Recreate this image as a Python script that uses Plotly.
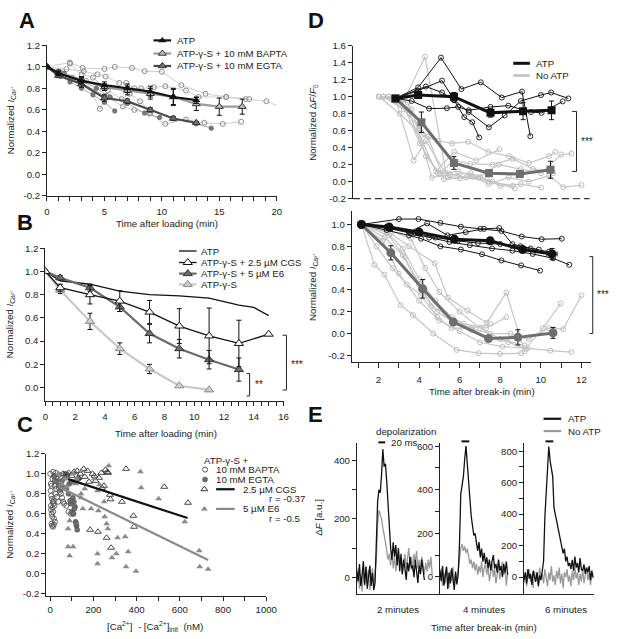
import plotly.graph_objects as go

W, H = 623, 639
FONT = "Liberation Sans, Arial, Helvetica, sans-serif"
AX = "#222222"
TXT = "#222222"

# ---------------- Panel A ----------------
a_atp_x = [0, 1, 3, 5, 7, 9, 11, 13]
a_atp_y = [1.0, 0.94, 0.87, 0.83, 0.80, 0.77, 0.72, 0.69]
a_atp_err = [0, 0.02, 0.03, 0.03, 0.04, 0.05, 0.07, 0.03]
a_bapta_x = [0, 1, 3, 5, 7, 9, 11, 13, 15, 17]
a_bapta_y = [1.0, 0.95, 0.88, 0.81, 0.78, 0.75, 0.72, 0.655, 0.63, 0.63]
a_bapta_err = [0, 0.02, 0.03, 0.03, 0.04, 0.05, 0.08, 0.06, 0.08, 0.07]
a_egta_x = [0, 1, 3, 5, 7, 9, 11, 13]
a_egta_y = [1.0, 0.92, 0.84, 0.71, 0.68, 0.60, 0.52, 0.48]
a_egta_err = [0, 0.02, 0.03, 0.03, 0.02, 0.02, 0.02, 0.01]
a_ind_bapta = [
    ([0, 2, 3.1, 5, 5.9, 7.4, 8.5, 10, 11.7, 13.8, 15.6, 17.3, 19.1, 20.3],
     [1.0, 1.04, 0.99, 0.98, 1.0, 0.99, 0.96, 0.955, 0.83, 0.75, 0.72, 0.70, 0.68, 0.63]),
    ([0, 1.7, 3.2, 4.4, 5.1, 6.3, 6.9, 7.6, 8.2, 9.3, 10.3, 12.1, 13.2, 15.6, 17.6],
     [1.0, 0.98, 0.96, 0.93, 0.91, 0.85, 0.85, 0.80, 0.80, 0.81, 0.82, 0.78, 0.72, 0.72, 0.70]),
    ([0, 1.3, 2.2, 3.4, 4.6, 5.2, 6.6, 7.6, 8.9, 10.3, 12.1, 13.7, 15.3, 16.9],
     [1.0, 0.94, 0.90, 0.87, 0.61, 0.73, 0.63, 0.60, 0.565, 0.47, 0.51, 0.48, 0.47, 0.49]),
    ([0, 1.1, 2.0, 3.0, 4.0, 5.3, 6.5, 7.2, 8.1, 9.0],
     [1.0, 0.95, 1.03, 0.93, 0.90, 0.78, 0.70, 0.75, 0.68, 0.57]),
]
a_ind_egta = [
    ([0, 1, 2, 3, 4, 5, 5.9], [1.0, 0.93, 0.86, 0.80, 0.74, 0.67, 0.59]),
    ([0, 1.2, 3, 5, 7, 9, 11, 13, 14.3], [1.0, 0.91, 0.85, 0.73, 0.67, 0.60, 0.52, 0.47, 0.43]),
    ([0, 1.5, 3, 4.3, 5.5, 7, 8.5, 9.8], [1.0, 0.94, 0.88, 0.80, 0.72, 0.66, 0.57, 0.53]),
]
a_xticks = list(range(0, 21))
a_xtext = [str(v) if v % 5 == 0 else "" for v in a_xticks]
a_yticks = [-0.2, 0.0, 0.2, 0.4, 0.6, 0.8, 1.0, 1.2]
a_ytext = ["-0.2", "0.0", "0.2", "0.4", "0.6", "0.8", "1.0", "1.2"]

# ---------------- Panel B ----------------
b_atp_x = [0, 1, 3, 5, 7, 9, 11, 13, 14, 15]
b_atp_y = [1.0, 0.92, 0.89, 0.83, 0.80, 0.79, 0.77, 0.71, 0.69, 0.62]
b_cgs_x = [0, 1, 3, 5, 7, 9, 11, 13, 15]
b_cgs_y = [1.0, 0.86, 0.80, 0.745, 0.65, 0.53, 0.445, 0.38, 0.46]
b_cgs_err = [0, 0.03, 0.08, 0.09, 0.10, 0.15, 0.24, 0.20, 0]
b_e6_x = [0, 1, 3, 5, 7, 9, 11, 13]
b_e6_y = [1.0, 0.945, 0.86, 0.695, 0.465, 0.335, 0.24, 0.155]
b_e6_err = [0, 0.02, 0.03, 0.04, 0.08, 0.08, 0.08, 0.10]
b_s_x = [0, 1, 3, 5, 7, 9, 11]
b_s_y = [1.0, 0.84, 0.57, 0.335, 0.16, 0.015, -0.02]
b_s_err = [0, 0.03, 0.07, 0.05, 0.04, 0, 0]
b_xticks = [i * 0.5 for i in range(33)]
b_xtext = [str(int(v)) if v % 2 == 0 else "" for v in b_xticks]
b_yticks = [0.0, 0.2, 0.4, 0.6, 0.8, 1.0, 1.2]
b_ytext = ["0.0", "0.2", "0.4", "0.6", "0.8", "1.0", "1.2"]

# ---------------- Panel C ----------------
c_bapta_x = [0, 3, 6, 10, 14, 18, 22, 26, 30, 35, 40, 45, 50, 55, 60, 2, 5, 8, 12, 15,
             20, 25, 28, 32, 38, 4, 7, 10, 14, 18, 22, 6, 9, 13, 17, 3, 11, 16, 21, 65,
             75, 85, 95, 105, 30, 42]
c_bapta_y = [1.0, 0.9, 0.88, 0.95, 1.02, 0.98, 0.93, 1.01, 0.97, 0.92, 0.86, 0.82, 0.80, 0.76, 0.72,
             0.83, 0.78, 0.75, 0.72, 0.70, 0.68, 0.80, 0.85, 0.77, 0.72, 0.64, 0.60, 0.57, 0.62, 0.55,
             0.52, 0.50, 0.48, 0.47, 0.49, 0.68, 0.66, 0.73, 0.88, 0.70, 0.68, 0.62, 0.60, 0.60, 0.95, 0.99]
c_egta_x = [18, 28, 40, 55, 62, 75, 88, 100, 105, 110, 95, 100, 108, 115, 118, 122, 125, 120, 48, 68,
            85, 92, 70, 80, 112, 132]
c_egta_y = [0.97, 0.92, 0.88, 0.93, 0.86, 0.85, 0.90, 0.92, 0.76, 0.72, 0.70, 0.62, 0.60, 0.67, 0.52,
            0.48, 0.44, 0.50, 0.84, 0.96, 0.80, 0.73, 1.0, 0.99, 0.65, 0.95]
c_cgs_x = [60, 85, 110, 125, 140, 155, 173, 196, 205, 226, 237, 256, 268, 249, 276, 279, 332, 351, 385, 388,
           528, 638, 185, 221, 261, 282, 100, 160, 240, 265, 210, 130, 180]
c_cgs_y = [1.0, 1.01, 1.02, 1.03, 1.0, 1.05, 1.03, 1.0, 0.98, 0.96, 1.01, 1.04, 1.01, 0.88, 0.79, 0.745,
           0.72, 1.05, 0.58, 0.47, 0.87, 0.71, 0.44, 0.42, 0.36, 0.26, 0.98, 0.97, 0.86, 1.02, 0.93, 0.96, 0.92]
c_e6_x = [271, 418, 421, 502, 623, 690, 692, 731, 397, 351, 361, 347, 312, 306, 286, 219, 219, 261, 267, 252,
          223, 189, 151, 143, 143, 106, 90, 83, 83, 90, 121, 118, 75, 106, 38, 53, 219, 204, 228, 143, 160, 250, 70]
c_e6_y = [1.08, 1.02, 0.86, 0.75, 0.52, 0.23, 0.07, 0.045, 0.025, 0.07, 0.22, 0.37, 0.36, 0.20, 0.16, 0.2,
          0.1, 0.50, 0.45, 0.57, 0.63, 0.65, 0.65, 0.8, 0.76, 0.27, 0.18, 0.27, 0.45, 0.53, 0.95, 0.9, 0.87,
          1.0, 1.0, 0.9, 0.83, 0.95, 0.89, 1.03, 0.85, 0.72, 0.95]
c_cgs_fit_x = [83, 636]
c_cgs_fit_y = [0.947, 0.557]
c_e6_fit_x = [40, 731]
c_e6_fit_y = [0.87, 0.137]
c_xticks = list(range(0, 1001, 100))
c_xtext = [str(v) if v % 200 == 0 else "" for v in c_xticks]
c_yticks = a_yticks
c_ytext = a_ytext

# ---------------- Panel D (top: dF/F0) ----------------
dt_atp_x = [2.8, 3.92, 5.69, 7.5, 9.11, 10.52]
dt_atp_y = [0.98, 1.02, 1.0, 0.81, 0.83, 0.84]
dt_atp_err = [0, 0.02, 0.05, 0.05, 0.10, 0.11]
dt_no_x = [2.8, 4.08, 5.69, 7.42, 8.95, 10.47]
dt_no_y = [0.98, 0.70, 0.22, 0.10, 0.09, 0.14]
dt_no_err = [0, 0.12, 0.075, 0.04, 0.04, 0.10]
dt_blk = [
    ([2.8, 3.92, 5.05, 6.06, 7.02, 8.06, 9.06, 9.47], [0.98, 1.11, 1.46, 1.09, 1.17, 0.99, 1.06, 0.535]),
    ([2.8, 3.9, 5.1, 5.7, 6.42, 7.42, 8.2, 9.0, 10.0, 10.5, 11.35],
     [0.98, 1.07, 1.19, 0.96, 0.82, 0.64, 0.78, 0.95, 1.02, 1.05, 0.98]),
    ([2.8, 4.3, 5.1, 5.7, 6.2, 6.6, 6.94], [0.98, 1.12, 1.05, 0.96, 0.76, 0.70, 0.52]),
    ([2.8, 3.6, 4.46, 5.34, 5.9, 6.42, 7.5, 8.38, 9.5, 10.03, 11.07],
     [0.98, 0.95, 0.86, 0.865, 0.88, 0.84, 0.88, 0.895, 0.82, 0.81, 0.945]),
]
dt_gry = [
    ([1.97, 3.3, 4.26, 5.3, 6.3, 7.4, 8.6], [1.0, 1.0, 1.47, 0.10, 0.05, 0.0, -0.05]),
    ([2.21, 2.8, 3.7, 4.3, 5.4, 6.6, 7.4, 8.4, 9.4, 10.4, 11.1, 12.0],
     [1.0, 0.98, 0.25, 0.48, 0.05, 0.06, -0.03, 0.05, 0.0, 0.07, -0.065, -0.04]),
    ([2.45, 3.4, 4.1, 4.9, 5.6, 6.4, 7.4, 8.4, 9.4, 10.4, 10.7],
     [1.0, 0.93, 0.55, 0.48, 0.45, 0.47, 0.35, 0.30, 0.22, 0.30, 0.35]),
    ([2.0, 3.0, 3.9, 4.8, 5.7, 6.8, 7.94], [1.0, 0.80, 0.60, 0.12, 0.35, 0.25, 0.38]),
    ([2.2, 3.2, 4.4, 5.2, 6.0, 7.0, 8.0, 9.0, 10.0], [1.0, 0.85, 0.53, 0.03, 0.04, 0.05, -0.05, -0.03, -0.07]),
    ([2.45, 3.5, 4.3, 5.0, 5.7, 6.5, 7.6, 8.6, 9.6, 10.6], [1.0, 0.80, 0.30, 0.10, 0.25, 0.21, 0.20, 0.27, 0.15, 0.10]),
    ([2.2, 3.1, 4.0, 4.9, 5.9, 6.9, 7.9, 9.0, 10.0, 11.0, 11.5],
     [1.0, 0.95, 0.45, 0.10, 0.12, 0.05, 0.20, 0.15, 0.10, 0.32, 0.33]),
    ([2.0, 2.8, 3.6, 4.6, 5.5, 6.5, 7.6, 8.7], [1.0, 0.95, 0.85, 0.05, 0.08, 0.10, 0.0, -0.08]),
]
dt_yticks = [-0.2, 0.0, 0.2, 0.4, 0.6, 0.8, 1.0, 1.2, 1.4, 1.6]
dt_ytext = ["-0.2", "0.0", "0.2", "0.4", "0.6", "0.8", "1.0", "1.2", "1.4", "1.6"]

# ---------------- Panel D (bottom: I_Ca) ----------------
db_atp_x = [1.16, 2.53, 4.0, 5.74, 7.5, 9.1, 10.55]
db_atp_y = [1.0, 0.976, 0.93, 0.865, 0.85, 0.77, 0.73]
db_atp_err = [0, 0.01, 0.015, 0.02, 0.03, 0.025, 0.05]
db_atp_xerr = [0, 0, 0, 0, 0, 0, 0.25]
db_no_x = [1.16, 2.61, 4.18, 5.69, 7.42, 8.87, 10.6]
db_no_y = [1.0, 0.74, 0.41, 0.105, -0.045, -0.035, 0.006]
db_no_err = [0, 0.065, 0.085, 0.03, 0.015, 0.07, 0.05]
db_blk = [
    ([1.16, 3.01, 3.97, 5.05, 6.06, 7.02, 8.06, 9.06, 10.04, 11.03],
     [1.0, 1.05, 1.05, 1.015, 0.98, 0.96, 0.94, 0.89, 0.865, 0.87]),
    ([1.16, 2.4, 3.5, 4.4, 5.4, 6.3, 7.2, 7.95, 8.6, 9.5, 10.4],
     [1.0, 0.98, 0.93, 1.01, 0.90, 0.93, 0.96, 0.967, 0.82, 0.78, 0.75]),
    ([1.16, 2.6, 3.6, 4.5, 5.5, 6.5, 7.6, 8.6, 9.6, 10.6, 11.4],
     [1.0, 0.96, 0.92, 0.88, 0.84, 0.81, 0.78, 0.76, 0.73, 0.69, 0.63]),
    ([1.16, 2.4, 3.5, 4.1, 5.05, 6.06, 7.1, 8.06, 9.03, 9.96],
     [1.0, 0.95, 0.90, 0.87, 0.80, 0.77, 0.727, 0.67, 0.625, 0.577]),
    ([1.16, 2.5, 3.8, 4.8, 5.9, 6.9, 8.0, 9.0, 9.9], [1.0, 0.97, 0.92, 0.88, 0.85, 0.83, 0.82, 0.80, 0.77]),
]
db_gry = [
    ([1.16, 1.8, 2.29, 3.09, 3.7, 4.7, 5.85, 6.94, 7.98, 9.03],
     [1.0, 0.63, 0.54, 0.26, 0.17, 0.0, -0.15, -0.18, -0.186, -0.18]),
    ([1.16, 2.2, 3.0, 4.0, 5.0, 6.0, 7.0, 8.1, 9.35, 10.47, 11.5],
     [1.0, 0.85, 0.55, 0.30, 0.12, 0.02, -0.08, -0.12, -0.135, -0.157, -0.17]),
    ([1.16, 2.6, 3.5, 4.77, 5.42, 6.38, 7.34, 8.3, 9.19], [1.0, 0.92, 0.80, 0.645, 0.33, 0.21, 0.10, 0.375, -0.165]),
    ([1.16, 2.5, 3.3, 4.0, 4.6, 5.3, 6.2, 7.3, 8.3], [1.0, 0.90, 0.70, 0.45, 0.25, 0.18, 0.09, 0.05, 0.15]),
    ([1.16, 2.4, 3.2, 4.0, 4.8, 5.6, 6.5, 7.5, 8.5, 9.4, 10.4, 11.1, 12.0],
     [1.0, 0.93, 0.78, 0.50, 0.30, 0.15, 0.05, 0.0, 0.0, -0.05, 0.05, 0.04, 0.35]),
    ([1.16, 2.3, 3.2, 4.1, 4.9, 5.7, 6.6, 7.5, 8.4, 9.25, 10.1, 10.98],
     [1.0, 0.88, 0.72, 0.40, 0.20, 0.10, 0.03, -0.04, -0.08, -0.14, 0.05, 0.276]),
    ([1.16, 1.9, 2.7, 3.4, 4.1, 4.9, 5.6, 6.6, 7.5], [1.0, 0.80, 0.60, 0.45, 0.35, 0.15, 0.05, 0.05, 0.09]),
    ([1.16, 2.5, 3.6, 4.3, 5.0, 6.0, 7.0, 8.0, 9.2], [1.0, 0.95, 0.87, 0.60, 0.38, 0.20, 0.05, -0.05, -0.11]),
]
db_xticks = list(range(1, 13))
db_xtext = [str(v) if v % 2 == 0 else "" for v in db_xticks]
db_yticks = [-0.2, 0.0, 0.2, 0.4, 0.6, 0.8, 1.0]
db_ytext = ["-0.2", "0.0", "0.2", "0.4", "0.6", "0.8", "1.0"]

# ---------------- Panel E (fluorescence traces, a.u.) ----------------
e1_atp = [20, -15, 45, -30, 5, 55, -25, 35, -40, -5, 40, -30, 15, -45, -20,
          120, 260, 300, 290, 350, 440, 380, 390, 330, 250, 160, 100, 60, 120, 70, 110,
          40, 100, 20, 80, 10, 60, 30, -10, 50, 20, 70, 30, 40, 0, 60, 20, -20, 40, 10, 60, 30, -10]
e1_no = [-20, 30, -40, 10, -50, 20, -30, 40, -10, 25, -45, 0, 30, -35, 10,
         60, 180, 230, 215, 200, 170, 150, 120, 90, 60,
         80, 40, 90, 30, 70, 20, 60, 90, 40, 70, 10, 50, 80, 30, 60, 100, 40, 70, 20, 80, 50, 90,
         30, 60, 20, 70, 40, 10, 50, 20, 60, 30, 70, 10]
e2_atp = [30, -20, 50, -40, 0, 45, -55, 20, -30, 40, -10, -60, 25, -35, 10,
          150, 380, 430, 460, 540, 600, 520, 420, 360, 280, 230, 190, 200, 150, 120, 160,
          90, 130, 70, 110, 60, 90, 40, 80, 30, 70, 100, 40, 60, 20, 80, 30, 50, 0, 60, 20, 70, 10]
e2_no = [-10, 40, -40, 20, -30, 50, 0, -50, 30, -20, 45, -35, 10, -10, 30,
         80, 130, 150, 120, 140, 110, 130, 90,
         60, 80, 40, 70, 30, 60, 10, 50, 20, 70, 0, 40, 60, 10, 50, -20, 30, 60, 0, 40, -30, 20,
         50, -10, 30, 70, 10, 40, -40, 20]
e3_atp = [-20, 30, -40, 50, -10, 20, -50, 40, 0, -30, 30, -60, 10, -20, 40,
          100, 380, 560, 660, 830, 740, 690, 640, 440, 400, 350, 300, 270, 220, 190, 150,
          180, 100, 130, 70, 90, 50, 110, 40, 130, 60, 90, 30, 120, 50, 40, 80, 20, 60, 30, 70, -20, 40, 0]
e3_no = [-40, 30, -60, 20, 50, -30, 10, -70, 40, -20, 30, -50, 60, -10, 20, -40, 50, 0, -60, 30,
         -20, 70, -30, 10, -50, 40, -10, 60, -40, 20, -70, 30, 0, 50, -30, 10, -60, 40, -20, 60,
         -10, 30, -50, 20, -30, 50, -40, 10, 60, -20, 30, -50, 20, -10]
e1_yticks = [0, 100, 200, 300, 400]
e1_ytext = ["0", "", "200", "", "400"]
e2_yticks = [0, 100, 200, 300, 400, 500, 600]
e2_ytext = ["0", "", "200", "", "400", "", "600"]
e3_yticks = [0, 100, 200, 300, 400, 500, 600, 700, 800]
e3_ytext = ["0", "", "200", "", "400", "", "600", "", "800"]
e_labels = ["2 minutes", "4 minutes", "6 minutes"]

# ======================================================================
fig = go.Figure()


def xd(a, b):
    return [a / W, b / W]


def yd(top, bottom):
    return [1 - bottom / H, 1 - top / H]


def ax(dom, rng, **kw):
    d = dict(domain=dom, range=rng, showline=True, linecolor=AX, linewidth=1, ticks="outside",
             ticklen=4, tickwidth=1, tickcolor=AX, showgrid=False, zeroline=False,
             tickfont=dict(family=FONT, size=9.6, color=TXT), fixedrange=True)
    d.update(kw)
    return d


def tr(x, y, xa, ya, **kw):
    fig.add_trace(go.Scatter(x=x, y=y, xaxis=xa, yaxis=ya, showlegend=False, hoverinfo="skip", **kw))


def ebar(arr):
    return dict(type="data", array=arr, color="#111", thickness=1, width=2.5, visible=True)


# ---- Panel A traces
for xs, ys in a_ind_bapta:
    tr(xs, ys, "x", "y", mode="lines+markers", line=dict(color="#cdcdcd", width=1),
       marker=dict(symbol="circle-open", size=5, color="#8c8c8c", line=dict(width=1)))
for xs, ys in a_ind_egta:
    tr(xs, ys, "x", "y", mode="lines+markers", line=dict(color="#ababab", width=1),
       marker=dict(symbol="circle", size=4.5, color="#7a7a7a", line=dict(color="#555", width=0.6)))
tr(a_egta_x, a_egta_y, "x", "y", mode="lines+markers", line=dict(color="#4a4a4a", width=2.2),
   marker=dict(symbol="triangle-up", size=7, color="#6e6e6e", line=dict(color="#333", width=1)),
   error_y=ebar(a_egta_err))
tr(a_bapta_x, a_bapta_y, "x", "y", mode="lines+markers", line=dict(color="#9a9a9a", width=2.2),
   marker=dict(symbol="triangle-up", size=7, color="#bdbdbd", line=dict(color="#333", width=1)),
   error_y=ebar(a_bapta_err))
tr(a_atp_x, a_atp_y, "x", "y", mode="lines+markers", line=dict(color="#111", width=2.2),
   marker=dict(symbol="triangle-up", size=7, color="#111"), error_y=ebar(a_atp_err))

# ---- Panel B traces
tr(b_atp_x, b_atp_y, "x2", "y2", mode="lines", line=dict(color="#111", width=1.3))
tr(b_s_x, b_s_y, "x2", "y2", mode="lines+markers", line=dict(color="#c8c8c8", width=2.2),
   marker=dict(symbol="triangle-up", size=8, color="#cfcfcf", line=dict(color="#8a8a8a", width=1)),
   error_y=ebar(b_s_err))
tr(b_e6_x, b_e6_y, "x2", "y2", mode="lines+markers", line=dict(color="#6a6a6a", width=2.2),
   marker=dict(symbol="triangle-up", size=8, color="#6e6e6e", line=dict(color="#333", width=1)),
   error_y=ebar(b_e6_err))
tr(b_cgs_x, b_cgs_y, "x2", "y2", mode="lines+markers", line=dict(color="#111", width=1.3),
   marker=dict(symbol="triangle-up", size=8, color="white", line=dict(color="#111", width=1)),
   error_y=ebar(b_cgs_err))

# ---- Panel C traces
tr(c_bapta_x, c_bapta_y, "x3", "y3", mode="markers",
   marker=dict(symbol="circle-open", size=5, color="#555", line=dict(width=0.9)))
tr(c_egta_x, c_egta_y, "x3", "y3", mode="markers",
   marker=dict(symbol="circle", size=5, color="#6f6f6f", line=dict(color="#444", width=0.5)))
tr(c_cgs_x, c_cgs_y, "x3", "y3", mode="markers",
   marker=dict(symbol="triangle-up-open", size=6, color="#333", line=dict(width=0.9)))
tr(c_e6_x, c_e6_y, "x3", "y3", mode="markers",
   marker=dict(symbol="triangle-up", size=6, color="#8a8a8a"))
tr(c_cgs_fit_x, c_cgs_fit_y, "x3", "y3", mode="lines", line=dict(color="#111", width=2.2))
tr(c_e6_fit_x, c_e6_fit_y, "x3", "y3", mode="lines", line=dict(color="#8a8a8a", width=2.2))

# ---- Panel D top
for xs, ys in dt_gry:
    tr(xs, ys, "x4", "y4", mode="lines+markers", line=dict(color="#c6c6c6", width=1.2),
       marker=dict(symbol="circle-open", size=5, color="#bdbdbd", line=dict(width=1)))
for xs, ys in dt_blk:
    tr(xs, ys, "x4", "y4", mode="lines+markers", line=dict(color="#111", width=1),
       marker=dict(symbol="circle-open", size=5, color="#111", line=dict(width=0.9)))
tr(dt_no_x, dt_no_y, "x4", "y4", mode="lines+markers", line=dict(color="#6e6e6e", width=3),
   marker=dict(symbol="square", size=8, color="#6e6e6e"), error_y=ebar(dt_no_err))
tr(dt_atp_x, dt_atp_y, "x4", "y4", mode="lines+markers", line=dict(color="#111", width=3),
   marker=dict(symbol="square", size=8, color="#111"), error_y=ebar(dt_atp_err))

# ---- Panel D bottom
for xs, ys in db_gry:
    tr(xs, ys, "x5", "y5", mode="lines+markers", line=dict(color="#c6c6c6", width=1.2),
       marker=dict(symbol="circle-open", size=5, color="#bdbdbd", line=dict(width=1)))
for xs, ys in db_blk:
    tr(xs, ys, "x5", "y5", mode="lines+markers", line=dict(color="#111", width=1),
       marker=dict(symbol="circle-open", size=5, color="#111", line=dict(width=0.9)))
tr(db_no_x, db_no_y, "x5", "y5", mode="lines+markers", line=dict(color="#6e6e6e", width=3),
   marker=dict(symbol="circle", size=9, color="#6e6e6e"), error_y=ebar(db_no_err))
tr(db_atp_x, db_atp_y, "x5", "y5", mode="lines+markers", line=dict(color="#111", width=3),
   marker=dict(symbol="circle", size=9, color="#111"), error_y=ebar(db_atp_err),
   error_x=dict(type="data", array=db_atp_xerr, color="#111", thickness=1, width=2.5))

# ---- Panel E
for (atp, no), xa, ya in [((e1_atp, e1_no), "x6", "y6"), ((e2_atp, e2_no), "x7", "y7"),
                          ((e3_atp, e3_no), "x8", "y8")]:
    tr(list(range(len(no))), no, xa, ya, mode="lines", line=dict(color="#9a9a9a", width=1.3))
    tr(list(range(len(atp))), atp, xa, ya, mode="lines", line=dict(color="#111", width=1.3))


# ---- Overlay decorations (page pixel coordinates)
def seg(xs, ys, color="#111", width=1, dash=None):
    tr(xs, ys, "x9", "y9", mode="lines", line=dict(color=color, width=width, dash=dash))


def mk(x, y, symbol, size, color, lc=None, lw=1):
    m = dict(symbol=symbol, size=size, color=color)
    if lc:
        m["line"] = dict(color=lc, width=lw)
    tr([x], [y], "x9", "y9", mode="markers", marker=m)


anns = []


def ann(text, x, y, size=9.7, xanchor="center", yanchor="middle", angle=0, color=TXT):
    anns.append(dict(text=text, x=x, y=y, xref="x9", yref="y9", showarrow=False, xanchor=xanchor,
                     yanchor=yanchor, textangle=angle, font=dict(family=FONT, size=size, color=color)))


# Legend A
for yy, lc, mc, mlc, label in [(35, "#111", "#111", None, "ATP"),
                               (48.3, "#9a9a9a", "#bdbdbd", "#333", "ATP-γ-S + 10 mM BAPTA"),
                               (61, "#4a4a4a", "#6e6e6e", "#333", "ATP-γ-S + 10 mM EGTA")]:
    seg([154, 172], [yy, yy], lc, 2.2)
    mk(163, yy, "triangle-up", 7, mc, mlc)
    ann(label, 176, yy, xanchor="left")

# Legend B
seg([180, 198], [249.3, 249.3], "#111", 1.3)
ann("ATP", 201, 249.3, xanchor="left")
seg([180, 198], [261, 261], "#111", 1.3)
mk(189, 261, "triangle-up", 8, "white", "#111")
ann("ATP-γ-S + 2.5 µM CGS", 201, 261, xanchor="left")
seg([180, 198], [272.3, 272.3], "#6a6a6a", 2.2)
mk(189, 272.3, "triangle-up", 8, "#6e6e6e", "#333")
ann("ATP-γ-S + 5 µM E6", 201, 272.3, xanchor="left")
seg([180, 198], [283.3, 283.3], "#c8c8c8", 2.2)
mk(189, 283.3, "triangle-up", 8, "#cfcfcf", "#8a8a8a")
ann("ATP-γ-S", 201, 283.3, xanchor="left")

# Brackets B
seg([249.3, 252.3, 252.3, 249.3], [374, 374, 396.7, 396.7], "#222", 1)
ann("**", 262, 385, size=10)
seg([286, 290, 290, 286], [335, 335, 390.7, 390.7], "#222", 1)
ann("***", 301, 365, size=10)

# Legend C
ann("ATP-γ-S +", 204, 462.5, xanchor="left")
mk(206.7, 471.7, "circle-open", 5, "#555", None)
ann("10 mM BAPTA", 216, 471.7, xanchor="left")
mk(206.7, 481.7, "circle", 5, "#6f6f6f", "#444", 0.5)
ann("10 mM EGTA", 216, 481.7, xanchor="left")
mk(206, 491.7, "triangle-up-open", 6, "#333", None)
seg([218, 237], [491.7, 491.7], "#111", 2.2)
ann("2.5 µM CGS", 243, 491.7, xanchor="left")
ann("r = -0.37", 270, 501.5, xanchor="left")
mk(206, 511.7, "triangle-up", 6, "#8a8a8a", None)
seg([218, 237], [511.7, 511.7], "#8a8a8a", 2.2)
ann("5 µM E6", 243, 511.7, xanchor="left")
ann("r = -0.5", 270, 521.7, xanchor="left")

# Legend D
seg([522, 539], [58.3, 58.3], "#111", 3)
ann("ATP", 543.3, 58.3, xanchor="left")
seg([522, 539], [70.7, 70.7], "#c0c0c0", 2.5)
ann("No ATP", 543.3, 70.7, xanchor="left")
seg([358, 600], [196, 196], "#333", 1.3, dash="7px,4px")
seg([582.3, 586.7, 586.7, 582.3], [107.3, 107.3, 168.3, 168.3], "#222", 1)
ann("***", 597, 138, size=10)
seg([600, 603.3, 603.3, 600], [255, 255, 333.3, 333.3], "#222", 1)
ann("***", 614, 294, size=10)

# Legend E and stimulus bars
seg([553, 571], [420, 420], "#111", 2.2)
ann("ATP", 576, 420, xanchor="left")
seg([553, 571], [432.5, 432.5], "#9a9a9a", 2.2)
ann("No ATP", 576, 432.5, xanchor="left")
ann("depolarization", 412, 433)
seg([384, 391], [444, 444], "#111", 2)
ann("20 ms", 395, 444, xanchor="left")
seg([469, 477], [443, 443], "#111", 2)
seg([555, 563], [443, 443], "#111", 2)

# Axis titles
ann("Normalized <i>I</i><sub>Ca²⁺</sub>", 9, 116.5, angle=-90)
ann("Time after loading (min)", 168, 221)
ann("Normalized <i>I</i><sub>Ca²⁺</sub>", 8, 324, angle=-90)
ann("Time after loading (min)", 167, 434.5)
ann("Normalized <i>I</i><sub>Ca²⁺</sub>", 7, 528, angle=-90)
ann("[Ca<sup>2+</sup>]  - [Ca<sup>2+</sup>]<sub>init</sub>  (nM)", 155, 631)
ann("Normalized Δ<i>F</i>/<i>F</i><sub>0</sub>", 317, 118, angle=-90)
ann("Normalized <i>I</i><sub>Ca²⁺</sub>", 317, 286, angle=-90)
ann("Time after break-in (min)", 490, 392)
ann("Δ<i>F</i> [a.u.]", 322, 520, angle=-90)
for lbl, xx in zip(e_labels, [404.5, 492.5, 576]):
    ann(lbl, xx, 614)
ann("Time after break-in (min)", 492, 632)

# Panel letters
for letter, xx, yy in [("A", 25, 15), ("B", 23, 220), ("C", 22.5, 425.5), ("D", 320, 15), ("E", 320, 415.5)]:
    ann("<b>" + letter + "</b>", xx, yy, size=22, color="#111")

hidden = dict(visible=False, showgrid=False, zeroline=False, fixedrange=True)

fig.update_layout(
    width=W, height=H, autosize=False, margin=dict(l=0, r=0, t=0, b=0),
    paper_bgcolor="white", plot_bgcolor="rgba(0,0,0,0)", showlegend=False, hovermode=False,
    font=dict(family=FONT, size=10, color=TXT),
    xaxis=ax(xd(45, 280), [0, 20], anchor="y", tickvals=a_xticks, ticktext=a_xtext, ticklabelstandoff=3),
    yaxis=ax(yd(40, 193.3), [-0.2, 1.2], anchor="x", tickvals=a_yticks, ticktext=a_ytext),
    xaxis2=ax(xd(43.3, 287), [0, 16], anchor="y2", tickvals=b_xticks, ticktext=b_xtext, ticklabelstandoff=3),
    yaxis2=ax(yd(246.5, 401.7), [-0.114, 1.2], anchor="x2", tickvals=b_yticks, ticktext=b_ytext),
    xaxis3=ax(xd(44.3, 269.3), [-18, 1000], anchor="y3", tickvals=c_xticks, ticktext=c_xtext, ticklabelstandoff=1),
    yaxis3=ax(yd(455.7, 600), [-0.22, 1.2], anchor="x3", tickvals=c_yticks, ticktext=c_ytext),
    xaxis4=dict(hidden, domain=xd(357.7, 601.7), range=[0.68, 12.48], anchor="y4"),
    yaxis4=ax(yd(40.5, 196), [-0.2, 1.6], anchor="x4", tickvals=dt_yticks, ticktext=dt_ytext),
    xaxis5=ax(xd(356.7, 601.7), [0.68, 12.48], anchor="y5", tickvals=db_xticks, ticktext=db_xtext,
              ticklen=5, ticklabelstandoff=3),
    yaxis5=ax(yd(209, 362.7), [-0.265, 1.12], anchor="x5", tickvals=db_yticks, ticktext=db_ytext),
    xaxis6=ax(xd(362, 447), [0, 64], anchor="y6", ticks="", showticklabels=False),
    yaxis6=ax(yd(445, 598), [-57, 460], anchor="x6", tickvals=e1_yticks, ticktext=e1_ytext),
    xaxis7=ax(xd(447, 533), [0, 64.6], anchor="y7", ticks="", showticklabels=False),
    yaxis7=ax(yd(445, 598), [-77, 613], anchor="x7", tickvals=e2_yticks, ticktext=e2_ytext),
    xaxis8=ax(xd(533, 605), [0, 54], anchor="y8", ticks="", showticklabels=False),
    yaxis8=ax(yd(445, 598), [-106, 850], anchor="x8", tickvals=e3_yticks, ticktext=e3_ytext),
    xaxis9=dict(hidden, domain=[0, 1], range=[0, W], anchor="y9"),
    yaxis9=dict(hidden, domain=[0, 1], range=[H, 0], anchor="x9"),
    annotations=anns,
)

# remove the default page margin so the figure sits exactly in the 623x639 window; hide the modebar
fig.write_html("out.html", config={"displayModeBar": False},
               post_script="document.body.style.margin='0px';document.body.style.overflow='hidden';")
